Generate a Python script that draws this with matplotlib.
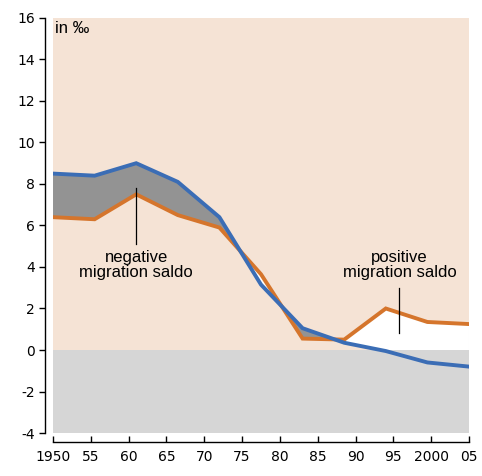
import matplotlib
matplotlib.use("Agg")
import matplotlib.pyplot as plt
from matplotlib import font_manager
import numpy as np

years = [1950, 1955.5, 1961, 1966.5, 1972, 1977.5, 1983, 1988.5, 1994, 1999.5, 2005]
natural = [8.5, 8.4, 9.0, 8.1, 6.4, 3.15, 1.05, 0.35, -0.05, -0.6, -0.8]
total = [6.4, 6.3, 7.5, 6.5, 5.9, 3.65, 0.55, 0.5, 2.0, 1.35, 1.25]
xticks = [1950, 1955, 1960, 1965, 1970, 1975, 1980, 1985, 1990, 1995, 2000, 2005]
xticklabels = ["1950", "55", "60", "65", "70", "75", "80", "85", "90", "95", "2000", "05"]
yticks = [-4, -2, 0, 2, 4, 6, 8, 10, 12, 14, 16]

tickfp = font_manager.FontProperties(family="DejaVu Sans", size=10)
plt.rcParams['font.family'] = ['Liberation Sans', 'DejaVu Sans']

BLUE = "#3b6db5"
ORANGE = "#d5752c"
PEACH = "#f5e3d5"
GREYBG = "#d6d6d6"
DARKFILL = "#939393"

fig = plt.figure(figsize=(4.82, 4.76), dpi=100)
ax = fig.add_axes([0.110, 0.0903, 0.863, 0.872])
ax.set_facecolor("none")
ax.set_xlim(1950, 2005)
ax.set_ylim(-4, 16)

ax.axhspan(0, 16, color=PEACH, lw=0, zorder=0)

x = np.array(years)
n = np.array(natural)
t = np.array(total)
ax.fill_between(x, n, t, where=n >= t, interpolate=True, color=DARKFILL, lw=0, zorder=1)
ax.fill_between(x, n, t, where=t >= n, interpolate=True, color="white", lw=0, zorder=1)
ax.axhspan(-4, 0, color=GREYBG, lw=0, zorder=2)

ax.plot(years, total, color=ORANGE, lw=2.8, zorder=3, solid_joinstyle='miter')
ax.plot(years, natural, color=BLUE, lw=2.8, zorder=4, solid_joinstyle='miter')

# annotations
ax.plot([1961, 1961], [5.1, 7.8], color="black", lw=0.9, zorder=5)
ax.text(1961, 4.8, "negative\nmigration saldo", ha="center", va="top",
        fontsize=12, linespacing=1.0, zorder=5)
ax.plot([1995.8, 1995.8], [0.8, 3.0], color="black", lw=0.9, zorder=5)
ax.text(1995.8, 4.8, "positive\nmigration saldo", ha="center", va="top",
        fontsize=12, linespacing=1.0, zorder=5)
ax.text(1950.3, 15.85, "in ‰", ha="left", va="top", fontsize=12, zorder=5)

for s in ["top", "right"]:
    ax.spines[s].set_visible(False)
ax.spines["left"].set_position(("outward", 6))
ax.spines["bottom"].set_position(("outward", 6.5))
ax.spines["left"].set_linewidth(1.0)
ax.spines["bottom"].set_linewidth(1.0)

ax.set_yticks(yticks)
ax.set_yticklabels([str(v) for v in yticks], fontproperties=tickfp)
ax.set_xticks(xticks)
ax.set_xticklabels(xticklabels, fontproperties=tickfp)
ax.tick_params(axis="y", direction="out", length=4.5, width=1.0, pad=2.5)
ax.tick_params(axis="x", direction="in", length=4.5, width=1.0, pad=6)

fig.savefig("out.png", dpi=100)
